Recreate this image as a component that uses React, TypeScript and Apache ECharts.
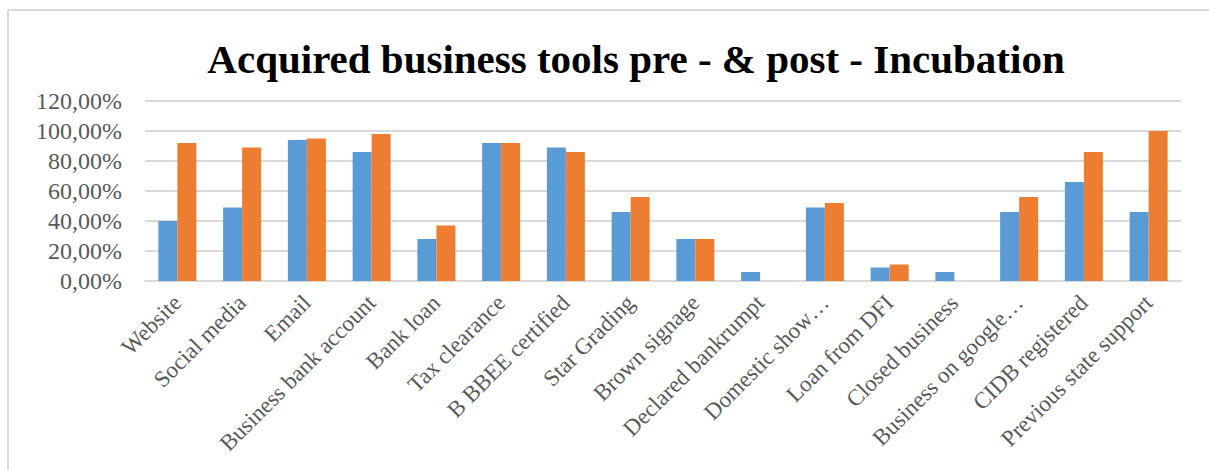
import React, { useEffect, useRef } from "react";
import * as echarts from "echarts";

const categories = [
  "Website",
  "Social media",
  "Email",
  "Business bank account",
  "Bank loan",
  "Tax clearance",
  "B BBEE certified",
  "Star Grading",
  "Brown signage",
  "Declared bankrumpt",
  "Domestic show…",
  "Loan from DFI",
  "Closed business",
  "Business on google…",
  "CIDB registered",
  "Previous state support",
];

const preIncubation = [40, 49, 94, 86, 28, 92, 89, 46, 28, 6, 49, 9, 6, 46, 66, 46];
const postIncubation = [92, 89, 95, 98, 37, 92, 86, 56, 28, 0, 52, 11, 0, 56, 86, 100];

const yTicks = { min: 0, max: 120, interval: 20 };

const FONT = "'Liberation Serif', 'Times New Roman', serif";

export default function App() {
  const ref = useRef<HTMLDivElement>(null);

  useEffect(() => {
    document.body.style.margin = "0";
    if (!ref.current) return;
    const chart = echarts.init(ref.current, undefined, { renderer: "svg" });
    chart.setOption({
      animation: false,
      backgroundColor: "#ffffff",
      title: {
        text: "Acquired business tools pre - & post - Incubation",
        left: 631,
        top: 33,
        textAlign: "center",
        textStyle: {
          fontFamily: FONT,
          fontWeight: "bold",
          fontSize: 41,
          color: "#000000",
        },
      },
      graphic: [
        {
          type: "line",
          shape: { x1: 8, y1: 10, x2: 1209, y2: 10 },
          style: { stroke: "#d9d9d9", lineWidth: 2 },
          silent: true,
        },
        {
          type: "line",
          shape: { x1: 8, y1: 10, x2: 8, y2: 470 },
          style: { stroke: "#d9d9d9", lineWidth: 2 },
          silent: true,
        },
      ],
      grid: {
        left: 145,
        right: 28,
        top: 101,
        bottom: 189,
        containLabel: false,
        outerBoundsMode: "none",
      },
      xAxis: {
        type: "category",
        data: categories,
        axisLine: { show: true, lineStyle: { color: "#d9d9d9", width: 2 } },
        axisTick: { show: false },
        axisLabel: {
          rotate: 45,
          interval: 0,
          margin: 18,
          fontFamily: FONT,
          fontSize: 23,
          color: "#595959",
        },
      },
      yAxis: {
        type: "value",
        min: yTicks.min,
        max: yTicks.max,
        interval: yTicks.interval,
        axisLine: { show: false },
        axisTick: { show: false },
        splitLine: { lineStyle: { color: "#d9d9d9", width: 2 } },
        axisLabel: {
          margin: 23,
          fontFamily: FONT,
          fontSize: 24,
          color: "#595959",
          formatter: (v: number) => v.toFixed(2).replace(".", ",") + "%",
        },
      },
      series: [
        {
          name: "Pre-incubation",
          type: "bar",
          data: preIncubation,
          barWidth: 19,
          barGap: "0%",
          itemStyle: { color: "#5B9BD5" },
        },
        {
          name: "Post-incubation",
          type: "bar",
          data: postIncubation,
          barWidth: 19,
          barGap: "0%",
          itemStyle: { color: "#ED7D31" },
        },
      ],
    });
    return () => chart.dispose();
  }, []);

  return <div ref={ref} style={{ width: 1209, height: 470 }} />;
}
